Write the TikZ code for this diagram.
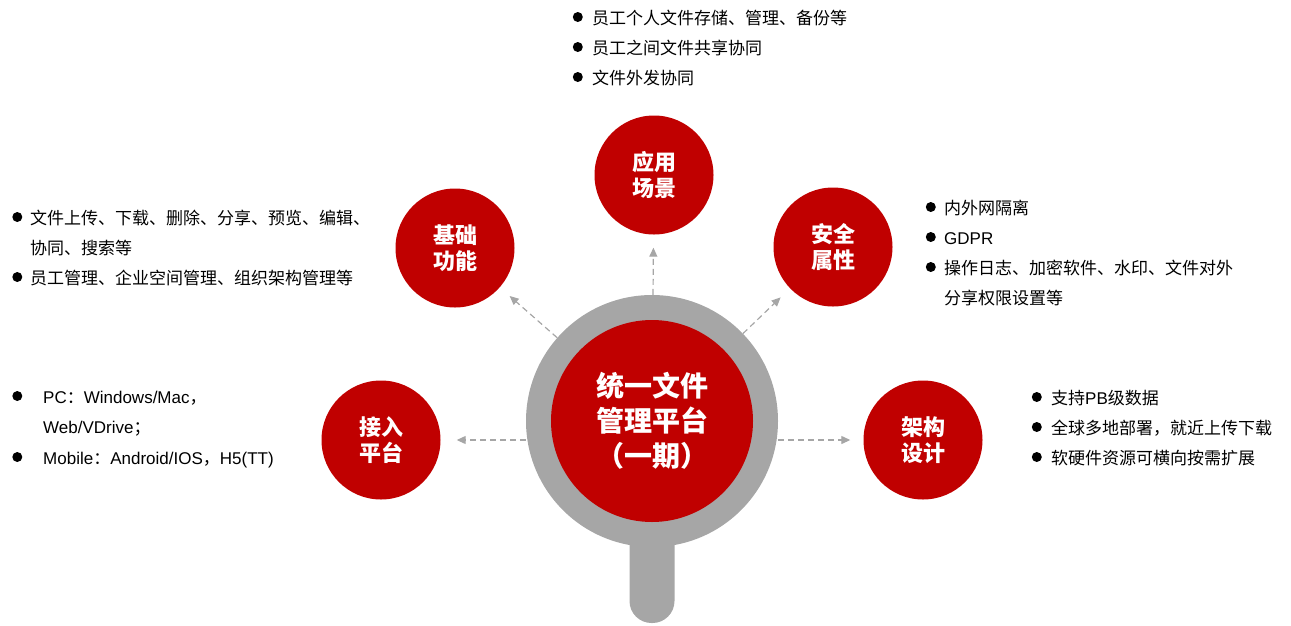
\documentclass[tikz,border=0pt]{standalone}
\usepackage{fontspec}
\setmainfont{Noto Sans CJK SC}
\newfontfamily\lat{Liberation Sans}
\usetikzlibrary{arrows.meta,calc,positioning}
\definecolor{hubred}{HTML}{C00000}
\definecolor{lensgray}{HTML}{A6A6A6}
\def\linegap{30}
\def\handlewidth{45}

\begin{document}
\begin{tikzpicture}[x=1pt,y=-1pt,
  satellite/.style={circle,fill=hubred,minimum size=119pt,inner sep=0,text=white,
    font=\fontsize{22}{26}\selectfont\bfseries,align=center},
  ring/.style={circle,fill=lensgray,minimum size=252pt,inner sep=0},
  core/.style={circle,fill=hubred,minimum size=202pt,inner sep=0,text=white,
    font=\fontsize{28}{35}\selectfont\bfseries,align=center},
  link/.style={draw=lensgray,line width=1.2pt,dash pattern=on 6pt off 4pt,
    -{Triangle[length=9pt,width=8pt]},shorten >=13pt},
  item/.style={anchor=west,inner sep=0,text height=14pt,text depth=0pt,
    font=\fontsize{17}{17}\selectfont},
  bulletdot/.style={circle,fill=black,minimum size=10pt,inner sep=0}]
  \useasboundingbox (0,0) rectangle (1291,625);

  % magnifier
  \coordinate (HC) at (652,421);
  \fill[lensgray,rounded corners=22pt] ($ (HC) + (-\handlewidth/2,80) $) rectangle ($ (HC) + (\handlewidth/2,202) $);
  \node[ring] (hub) at (HC) {};
  \node[core] (core) at (HC) {统一文件\\管理平台\\（一期）};

  % satellites
  \node[satellite] (apps) at (654,175) {应用\\场景};
  \node[satellite] (base) at (455,248) {基础\\功能};
  \node[satellite] (secu) at (833,247) {安全\\属性};
  \node[satellite] (acce) at (381,440) {接入\\平台};
  \node[satellite] (arch) at (923,440) {架构\\设计};

  \draw[link] (hub) -- (apps);
  \draw[link] (hub) -- (base);
  \draw[link] (hub) -- (secu);
  \draw[link,shorten >=16pt] (acce -| hub.west) -- (acce);
  \draw[link] (arch -| hub.east) -- (arch);

  % text lists
  \node[item] (apps1) at (592,17) {员工个人文件存储、管理、备份等};
  \node[item] (apps2) at ($ (apps1.west) + (0,\linegap) $) {员工之间文件共享协同};
  \node[item] (apps3) at ($ (apps1.west) + (0,2*\linegap) $) {文件外发协同};
  \node[bulletdot,left=9pt of apps1] (apps1d) {};
  \node[bulletdot,left=9pt of apps2] (apps2d) {};
  \node[bulletdot,left=9pt of apps3] (apps3d) {};

  \node[item] (base1) at (30,217) {文件上传、下载、删除、分享、预览、编辑、};
  \node[item] (base2) at ($ (base1.west) + (0,\linegap) $) {协同、搜索等};
  \node[item] (base3) at ($ (base1.west) + (0,2*\linegap) $) {员工管理、企业空间管理、组织架构管理等};
  \node[bulletdot,left=7.5pt of base1] (base1d) {};
  \node[bulletdot,left=7.5pt of base3] (base3d) {};

  \node[item] (secu1) at (944,207) {内外网隔离};
  \node[item] (secu2) at ($ (secu1.west) + (0,\linegap) $) {\lat GDPR};
  \node[item] (secu3) at ($ (secu1.west) + (0,2*\linegap) $) {操作日志、加密软件、水印、文件对外};
  \node[item] (secu4) at ($ (secu1.west) + (0,3*\linegap) $) {分享权限设置等};
  \node[bulletdot,left=8pt of secu1] (secu1d) {};
  \node[bulletdot,left=8pt of secu2] (secu2d) {};
  \node[bulletdot,left=8pt of secu3] (secu3d) {};

  \node[item] (acce1) at (43,396) {{\lat PC}：{\lat Windows/Mac}，};
  \node[item] (acce2) at ($ (acce1.west) + (0,\linegap) $) {{\lat Web/VDrive}；};
  \node[item] (acce3) at ($ (acce1.west) + (0,61) $) {{\lat Mobile}：{\lat Android/IOS}，{\lat H5(TT)}};
  \node[bulletdot,left=20.5pt of acce1] (acce1d) {};
  \node[bulletdot,left=20.5pt of acce3] (acce3d) {};

  \node[item] (arch1) at (1051,397) {支持{\lat PB}级数据};
  \node[item] (arch2) at ($ (arch1.west) + (0,\linegap) $) {全球多地部署，就近上传下载};
  \node[item] (arch3) at ($ (arch1.west) + (0,2*\linegap) $) {软硬件资源可横向按需扩展};
  \node[bulletdot,left=9pt of arch1] (arch1d) {};
  \node[bulletdot,left=9pt of arch2] (arch2d) {};
  \node[bulletdot,left=9pt of arch3] (arch3d) {};
\end{tikzpicture}
\end{document}
